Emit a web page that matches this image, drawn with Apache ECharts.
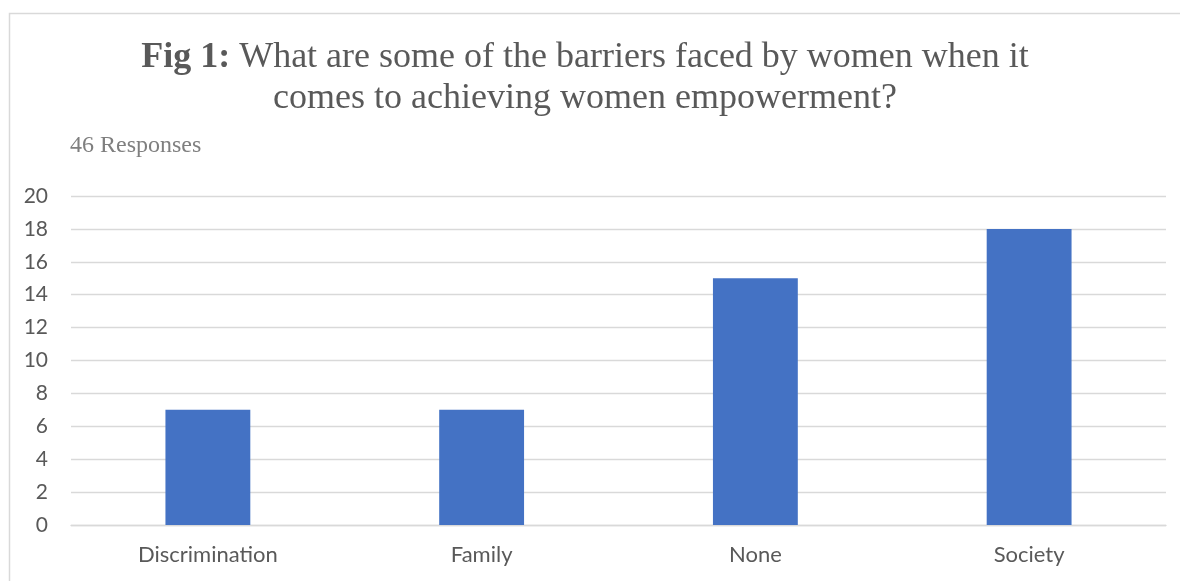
<!DOCTYPE html>
<html>
<head>
<meta charset="utf-8">
<script src="https://cdn.jsdelivr.net/npm/echarts@6/dist/echarts.min.js"></script>
<style>
  html, body { margin: 0; padding: 0; background: #fff; }
  #chart { width: 1180px; height: 581px; }
</style>
</head>
<body>
<div id="chart"></div>
<script>
const categories = ['Discrimination', 'Family', 'None', 'Society'];
const responses = [7, 7, 15, 18];
const yTicks = { min: 0, max: 20, interval: 2 };

const myChart = echarts.init(document.getElementById('chart'));

const option = {
    animation: false,
    backgroundColor: '#fff',
    graphic: [
        {
            type: 'rect',
            left: 7,
            top: 11,
            shape: { width: 1300, height: 700 },
            style: { fill: 'none', stroke: '#d9d9d9', lineWidth: 1.5 },
            silent: true,
        },
    ],
    title: [
        {
            text: '{b|Fig 1:} What are some of the barriers faced by women when it\ncomes to achieving women empowerment?',
            left: 580,
            top: 32,
            textAlign: 'center',
            textStyle: {
                fontFamily: 'Liberation Serif',
                fontSize: 36,
                fontWeight: 'normal',
                color: '#595959',
                lineHeight: 41,
                rich: {
                    b: {
                        fontFamily: 'Liberation Serif',
                        fontSize: 36,
                        fontWeight: 'bold',
                        color: '#595959',
                        lineHeight: 41,
                    },
                },
            },
        },
        {
            text: '46 Responses',
            left: 65,
            top: 129,
            textStyle: {
                fontFamily: 'Liberation Serif',
                fontSize: 24,
                fontWeight: 'normal',
                color: '#7f7f7f',
            },
        },
    ],
    grid: {
        left: 71,
        right: 14,
        top: 196,
        bottom: 56,
    },
    xAxis: {
        type: 'category',
        data: categories,
        axisLine: { show: true, lineStyle: { color: '#d9d9d9', width: 1.3 } },
        axisTick: { show: false },
        axisLabel: {
            color: '#595959',
            fontFamily: 'Lato',
            fontSize: 22,
            margin: 19,
        },
    },
    yAxis: {
        type: 'value',
        min: yTicks.min,
        max: yTicks.max,
        interval: yTicks.interval,
        axisLine: { show: false },
        axisTick: { show: false },
        splitLine: { lineStyle: { color: '#d9d9d9', width: 1.3 } },
        axisLabel: {
            color: '#595959',
            fontFamily: 'Lato',
            fontSize: 21,
            margin: 23,
        },
    },
    series: [
        {
            type: 'bar',
            data: responses,
            barWidth: '31%',
            itemStyle: { color: '#4472c4' },
        },
    ],
};

myChart.setOption(option);
</script>
</body>
</html>
